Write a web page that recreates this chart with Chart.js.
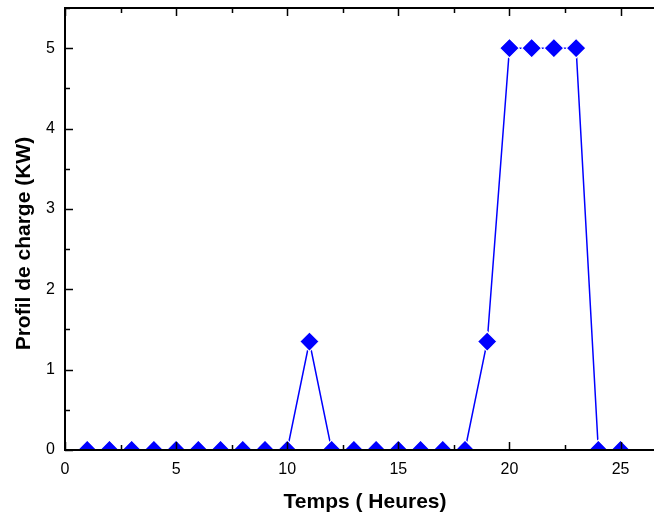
<!DOCTYPE html>
<html>
<head>
<meta charset="utf-8">
<script src="https://cdn.jsdelivr.net/npm/chart.js@4"></script>
<style>
  html, body { margin: 0; padding: 0; background: #fff; overflow: hidden; }
  canvas { display: block; }
</style>
</head>
<body>
<canvas id="chargeChart" width="665" height="516"></canvas>
<script>
// hours of the day and load profile (kW)
const hours = [1, 2, 3, 4, 5, 6, 7, 8, 9, 10, 11, 12, 13, 14, 15, 16, 17, 18, 19, 20, 21, 22, 23, 24, 25];
const charge = [0, 0, 0, 0, 0, 0, 0, 0, 0, 0, 1.35, 0, 0, 0, 0, 0, 0, 0, 1.35, 5, 5, 5, 5, 0, 0];
const xTicks = [0, 5, 10, 15, 20, 25];
const yTicks = [0, 1, 2, 3, 4, 5];

const FONT = "'Liberation Sans', Arial, sans-serif";

// markers sit on the axis and get cut in half, so clip to the plot box
const clipToArea = {
  id: "clipToArea",
  beforeDatasetsDraw(chart) {
    const a = chart.chartArea;
    chart.ctx.save();
    chart.ctx.beginPath();
    chart.ctx.rect(a.left, a.top, a.right - a.left, a.bottom - a.top);
    chart.ctx.clip();
  },
  afterDatasetsDraw(chart) {
    chart.ctx.restore();
  }
};

// inward ticks + frame, like the original plot
const frameTicks = {
  id: "frameTicks",
  afterDraw(chart) {
    const ctx = chart.ctx;
    const area = chart.chartArea;
    const xs = chart.scales.x;
    const ys = chart.scales.y;
    ctx.save();
    ctx.strokeStyle = "#000";
    ctx.lineWidth = 2;
    ctx.beginPath();
    ctx.moveTo(area.left - 1, area.top);
    ctx.lineTo(area.right, area.top);
    ctx.moveTo(area.left - 1, area.bottom);
    ctx.lineTo(area.right, area.bottom);
    ctx.moveTo(area.left, area.top);
    ctx.lineTo(area.left, area.bottom + 1);
    ctx.stroke();
    ctx.lineWidth = 1.5;
    for (let v = 0; v <= xs.max; v += 2.5) {
      const px = Math.round(xs.getPixelForValue(v)) + 0.5;
      const len = v % 5 === 0 ? 8 : 5;
      ctx.beginPath();
      ctx.moveTo(px, area.bottom);
      ctx.lineTo(px, area.bottom - len);
      ctx.moveTo(px, area.top);
      ctx.lineTo(px, area.top + len);
      ctx.stroke();
    }
    for (let v = 0; v <= ys.max; v += 0.5) {
      const py = Math.round(ys.getPixelForValue(v)) + 0.5;
      const len = v % 1 === 0 ? 8 : 5;
      ctx.beginPath();
      ctx.moveTo(area.left, py);
      ctx.lineTo(area.left + len, py);
      ctx.stroke();
    }
    ctx.restore();
  }
};

new Chart(document.getElementById("chargeChart"), {
  type: "line",
  data: {
    datasets: [{
      data: hours.map((h, i) => ({ x: h, y: charge[i] })),
      borderColor: "#0000ff",
      borderWidth: 1.5,
      backgroundColor: "#0000ff",
      pointStyle: "rectRot",
      pointRadius: 9.8,
      pointBorderWidth: 1.2,
      pointBorderColor: "#ffffff", // thin white halo, the line stops short of each marker
      pointBackgroundColor: "#0000ff",
      tension: 0
    }]
  },
  options: {
    responsive: false,
    animation: false,
    layout: { autoPadding: false, padding: { top: 8, right: 0, left: 0, bottom: 0 } },
    plugins: { legend: { display: false }, tooltip: { enabled: false } },
    scales: {
      x: {
        type: "linear",
        min: 0,
        max: 27,
        afterFit(scale) {
          scale.height = 66;
          scale.paddingLeft = 0;
          scale.paddingRight = 0;
        },
        afterBuildTicks(scale) { scale.ticks = xTicks.map(v => ({ value: v })); },
        grid: { display: true, drawOnChartArea: false, drawTicks: false },
        border: { display: true, color: "#000", width: 2 },
        ticks: { color: "#000", padding: 10, font: { family: FONT, size: 16 } },
        title: {
          display: true,
          text: "Temps ( Heures)",
          color: "#000",
          padding: { top: 0, bottom: 1 },
          font: { family: FONT, size: 21, weight: "bold" }
        }
      },
      y: {
        min: 0,
        max: 5.5,
        afterFit(scale) {
          scale.width = 65;
          scale.paddingTop = 0;
          scale.paddingBottom = 0;
        },
        afterBuildTicks(scale) { scale.ticks = yTicks.map(v => ({ value: v })); },
        grid: { display: true, drawOnChartArea: false, drawTicks: false },
        border: { display: true, color: "#000", width: 2 },
        ticks: { color: "#000", padding: 10, font: { family: FONT, size: 16 } },
        title: {
          display: true,
          // trailing spaces push the label a little lower, as in the source
          text: "Profil de charge (KW)\u00a0\u00a0\u00a0\u00a0\u00a0",
          color: "#000",
          padding: { top: 12, bottom: 0 },
          font: { family: FONT, size: 21, weight: "bold" }
        }
      }
    }
  },
  plugins: [clipToArea, frameTicks]
});
</script>
</body>
</html>
